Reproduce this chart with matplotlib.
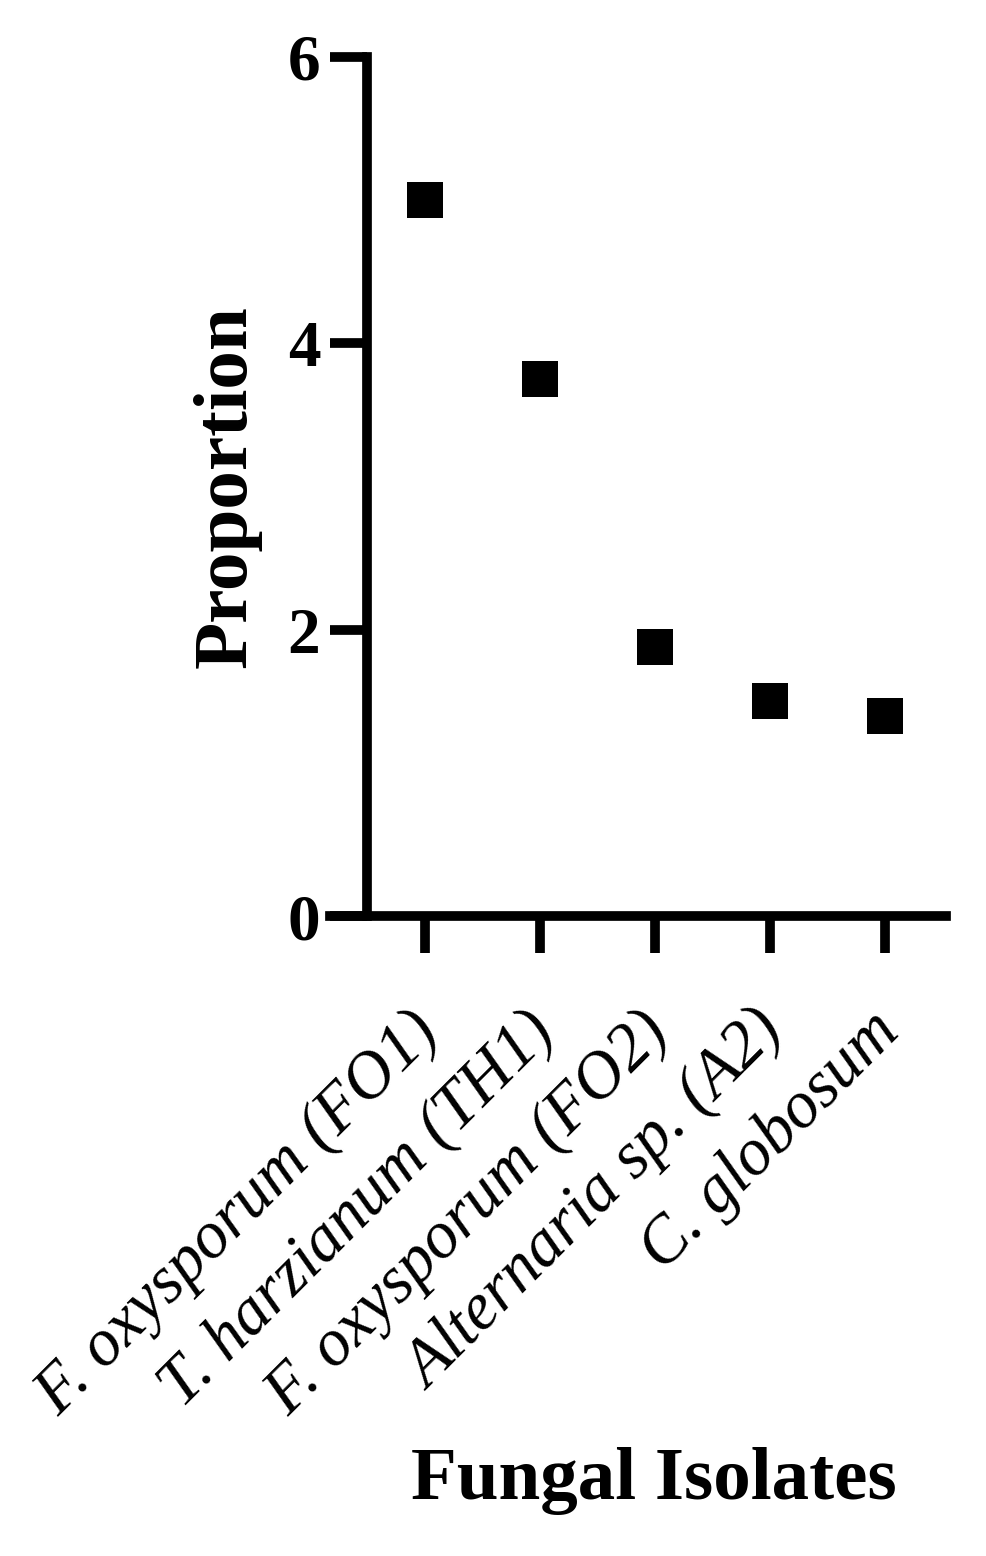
import numpy as np
import matplotlib
matplotlib.use("Agg")
import matplotlib.pyplot as plt
from matplotlib.transforms import ScaledTranslation

plt.rcParams['font.family'] = ['Liberation Serif', 'DejaVu Serif']

# data
isolates = ["F. oxysporum (FO1)", "T. harzianum (TH1)", "F. oxysporum (FO2)",
            "Alternaria sp. (A2)", "C. globosum"]
proportion = [5.00, 3.75, 1.88, 1.50, 1.40]
y_ticks = [0, 2, 4, 6]

fig = plt.figure(figsize=(9.87, 15.56), dpi=100)
ax = fig.add_axes([0.3343, 0.4113, 0.6246, 0.5521])

x = np.arange(len(isolates))
ax.plot(x, proportion, linestyle='none', marker='s', markersize=26,
        markeredgewidth=0, color='black')

ax.set_xlim(-0.826, 4.535)
ax.set_ylim(0, 6)

# prism-like axes
lw = 7
for side in ['top', 'right']:
    ax.spines[side].set_visible(False)
ax.spines['left'].set_position(('data', -0.504))
ax.spines['left'].set_linewidth(lw)
ax.spines['left'].set_capstyle('projecting')
ax.spines['bottom'].set_linewidth(lw)

ax.set_yticks(y_ticks)
ax.set_yticklabels([str(v) for v in y_ticks], fontsize=47, fontweight='bold')
ax.tick_params(axis='y', length=26.6, width=lw, pad=7)

ax.set_xticks(x)
ax.set_xticklabels(isolates, fontsize=48, fontstyle='italic', rotation=45,
                   ha='right', va='top', rotation_mode='anchor')
ax.tick_params(axis='x', length=26.6, width=lw, pad=34)
for lab in ax.get_xticklabels():
    lab.set_transform(lab.get_transform() + ScaledTranslation(-0.17, 0, fig.dpi_scale_trans))

ax.set_ylabel("Proportion", fontsize=55.5, fontweight='bold', labelpad=19)
ax.set_xlabel("Fungal Isolates", fontsize=54, fontweight='bold')
ax.xaxis.set_label_coords(0.5255, -0.618)

fig.savefig("out.png", dpi=100)
